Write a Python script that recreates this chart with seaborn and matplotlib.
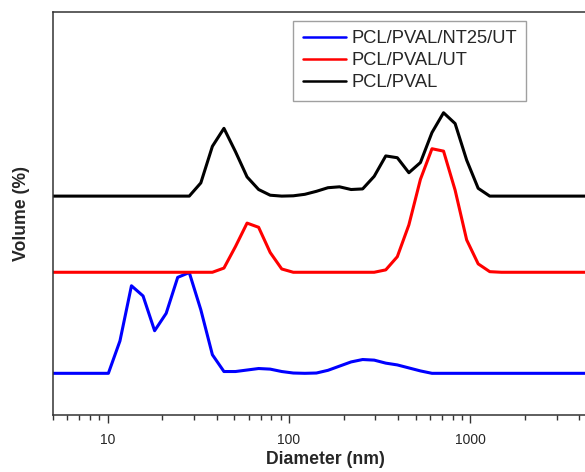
import numpy as np
import pandas as pd
import seaborn as sns
import matplotlib
matplotlib.use("Agg")
import matplotlib.pyplot as plt
from matplotlib.ticker import LogLocator, NullFormatter, FixedLocator

# size bins (nm) of the instrument
sizes = [4.187, 4.849, 5.615, 6.503, 7.531, 8.721, 10.10, 11.70, 13.54, 15.69,
         18.17, 21.04, 24.36, 28.21, 32.67, 37.84, 43.82, 50.75, 58.77, 68.06,
         78.82, 91.28, 105.7, 122.4, 141.8, 164.2, 190.1, 220.2, 255.0, 295.3,
         342.0, 396.1, 458.7, 531.2, 615.1, 712.4, 825.0, 955.4, 1106, 1281,
         1484, 1718, 1990, 2305, 2669, 3091, 3580, 4145, 4801, 5560]

# volume (%) per bin
vol_nt25 = [0, 0, 0, 0, 0, 0, 0, 5.4, 14.6, 12.9,
            7.1, 10.0, 16.0, 16.8, 10.6, 3.1, 0.3, 0.3, 0.55, 0.8,
            0.7, 0.3, 0.05, 0.0, 0.05, 0.5, 1.2, 1.9, 2.3, 2.2,
            1.7, 1.4, 0.9, 0.4, 0, 0, 0, 0, 0, 0,
            0, 0, 0, 0, 0, 0, 0, 0, 0, 0]
vol_ut = [0, 0, 0, 0, 0, 0, 0, 0, 0, 0,
          0, 0, 0, 0, 0, 0, 0.7, 4.3, 8.2, 7.5,
          3.3, 0.55, 0, 0, 0, 0, 0, 0, 0, 0,
          0.4, 2.6, 7.9, 15.5, 20.6, 20.2, 13.7, 5.4, 1.4, 0.1,
          0, 0, 0, 0, 0, 0, 0, 0, 0, 0]
vol_pcl = [0, 0, 0, 0, 0, 0, 0, 0, 0, 0,
           0, 0, 0, 0, 2.2, 8.3, 11.3, 7.4, 3.2, 1.1,
           0.15, 0.0, 0.05, 0.3, 0.8, 1.4, 1.55, 1.1, 1.2, 3.3,
           6.7, 6.4, 3.9, 5.6, 10.6, 13.9, 12.1, 6.0, 1.3, 0,
           0, 0, 0, 0, 0, 0, 0, 0, 0, 0]

labels = ["PCL/PVAL/NT25/UT", "PCL/PVAL/UT", "PCL/PVAL"]
colors = ["#0000ff", "#ff0000", "#000000"]
offsets = [6.95, 23.8, 36.5]

sns.set_style("ticks")
plt.rcParams["font.family"] = ["Liberation Sans", "DejaVu Sans"]

fig = plt.figure(figsize=(5.85, 4.72), dpi=100)
# axes run past the right edge of the image, as in the original crop
ax = fig.add_axes([53 / 585, 57 / 472, 544 / 585, 403 / 472])

for vals, lab, col, off in zip([vol_nt25, vol_ut, vol_pcl], labels, colors, offsets):
    df = pd.DataFrame({"size": sizes, "vol": np.array(vals) + off})
    sns.lineplot(data=df, x="size", y="vol", color=col, linewidth=2.2,
                 label=lab, ax=ax)

ax.set_xscale("log")
ax.set_xlim(5, 5000)
ax.set_ylim(0, 67.2)
ax.xaxis.set_major_locator(FixedLocator([10, 100, 1000]))
ax.xaxis.set_minor_locator(LogLocator(base=10, subs=np.arange(2, 10)))
ax.xaxis.set_minor_formatter(NullFormatter())
ax.set_xticklabels(["10", "100", "1000"])
ax.set_yticks([])
ax.tick_params(axis="x", which="major", length=6, width=1.0, labelsize=10,
               color="#333333", pad=7)
ax.tick_params(axis="x", which="minor", length=3.5, width=1.0, color="#333333")

for side in ["left", "bottom", "top", "right"]:
    ax.spines[side].set_visible(True)
    ax.spines[side].set_color("#333333")
    ax.spines[side].set_linewidth(1.1)

ax.set_xlabel("Diameter (nm)", fontsize=12.7, fontweight="bold")
ax.set_ylabel("Volume (%)", fontsize=12.7, fontweight="bold")
ax.xaxis.set_label_coords(0.5, -0.09)
ax.yaxis.set_label_coords(-0.043, 0.5)

leg = ax.legend(loc="upper left", bbox_to_anchor=(293 / 585, 1 - 20.7 / 472),
                bbox_transform=fig.transFigure, borderaxespad=0,
                fontsize=13.2, frameon=True, fancybox=False,
                handlelength=2.35, handletextpad=0.3, labelspacing=0.28,
                borderpad=0.52)
leg.get_frame().set_edgecolor("#888888")
leg.get_frame().set_linewidth(1.0)
for line in leg.get_lines():
    line.set_linewidth(1.8)

fig.savefig("out.png", dpi=100)
